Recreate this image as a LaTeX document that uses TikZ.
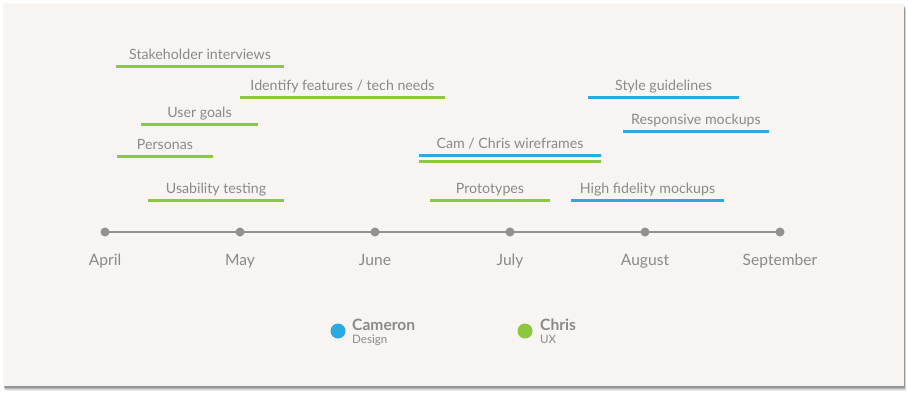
\documentclass[tikz,border=0pt]{standalone}
\usepackage{fontspec}
\setmainfont{Lato}
\usetikzlibrary{positioning}
\definecolor{camblue}{RGB}{41,171,226}
\definecolor{chrisgreen}{RGB}{141,198,63}
\definecolor{labelgray}{RGB}{138,138,138}
\definecolor{axisgray}{RGB}{145,145,145}
\definecolor{cardbg}{RGB}{247,244,241}

% one task: name, start x, end x, y, colour, text
\newcommand{\taskbar}[6]{%
  \coordinate (#1-s) at (#2,#4);
  \coordinate (#1-e) at (#3,#4);
  \draw[bar, #5] (#1-s) -- node[tasklabel] (#1) {#6} (#1-e);
}

\begin{document}
\begin{tikzpicture}[x=1pt, y=-1pt,
    bar/.style={line width=3pt},
    tasklabel/.style={anchor=base, yshift=7pt, inner sep=0pt, text=labelgray, font=\fontsize{14.2}{16}\selectfont},
    monthdot/.style={circle, fill=axisgray, minimum size=9pt, inner sep=0pt},
    monthlabel/.style={anchor=base, inner sep=0pt, text=labelgray, font=\fontsize{15.6}{18}\selectfont},
    legenddot/.style={circle, minimum size=15pt, inner sep=0pt},
    legendname/.style={anchor=base west, inner sep=0pt, text=labelgray, font=\fontsize{15.6}{18}\selectfont\bfseries},
    legendrole/.style={anchor=base west, inner sep=0pt, text=labelgray, font=\fontsize{11.6}{13}\selectfont}]
    \useasboundingbox (0,0) rectangle (908,394);

    % card with soft shadow
    \foreach \o/\op in {6/0.07, 5/0.1, 4/0.14, 3/0.18} {
        \fill[black, opacity=\op] (3+0.5*\o-1,3+\o) rectangle (904+0.3*\o,386+\o*0.8);
    }
    \fill[cardbg] (3,3) rectangle (904,386);

    % timeline
    \foreach \m/\lab [count=\i] in {apr/April, may/May, jun/June, jul/July, aug/August, sep/September} {
        \node[monthdot] (\m) at ({105+135*(\i-1)},232) {};
        \node[monthlabel] (\m-lab) at ({105+135*(\i-1)},265) {\lab};
    }
    \draw[axisgray, line width=1.5pt] (apr.center) -- (sep.center);

    % Chris (UX)
    \taskbar{stake}{116}{284}{66}{chrisgreen}{Stakeholder interviews}
    \taskbar{ident}{240}{445}{97}{chrisgreen}{Identify features / tech needs}
    \taskbar{goals}{141}{258}{124}{chrisgreen}{User goals}
    \taskbar{pers}{117}{213}{156}{chrisgreen}{Personas}
    \taskbar{usab}{148}{284}{200}{chrisgreen}{Usability testing}
    \taskbar{proto}{430}{550}{200}{chrisgreen}{Prototypes}
    \coordinate (wireg-s) at (419,161);
    \coordinate (wireg-e) at (601,161);
    \draw[bar, chrisgreen] (wireg-s) -- (wireg-e);

    % Cameron (Design)
    \taskbar{wire}{419}{601}{155}{camblue}{Cam / Chris wireframes}
    \taskbar{style}{588}{739}{97}{camblue}{Style guidelines}
    \taskbar{resp}{623}{769}{131}{camblue}{Responsive mockups}
    \taskbar{hifi}{571}{724}{200}{camblue}{High fidelity mockups}

    % legend
    \node[legenddot, fill=camblue] (camdot) at (338,331) {};
    \node[legendname] (cam) at (352,330) {Cameron};
    \node[legendrole] (camrole) at (352,343) {Design};
    \node[legenddot, fill=chrisgreen] (chrisdot) at (525,331) {};
    \node[legendname] (chris) at (540,330) {Chris};
    \node[legendrole] (chrisrole) at (540,343) {UX};
\end{tikzpicture}
\end{document}
